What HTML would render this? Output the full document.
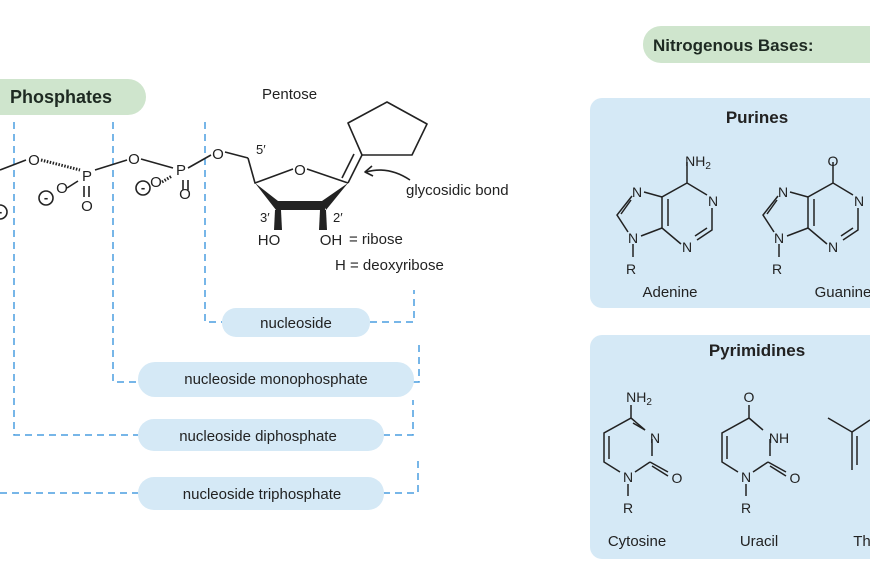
<!DOCTYPE html>
<html><head><meta charset="utf-8"><style>
html,body{margin:0;padding:0;background:#fff;width:870px;height:580px;overflow:hidden}
svg{display:block;font-family:"Liberation Sans",sans-serif}
</style></head><body>
<svg width="870" height="580" viewBox="0 0 870 580" xmlns="http://www.w3.org/2000/svg">
<rect x="643" y="26" width="250" height="37" rx="18" fill="#cfe5cd"/>
<text x="653" y="51" font-size="17" font-weight="bold" fill="#1e2a22">Nitrogenous Bases:</text>
<rect x="-20" y="79" width="166" height="36" rx="18" fill="#cfe5cd"/>
<text x="10" y="103" font-size="18" font-weight="bold" fill="#1e2a22">Phosphates</text>
<text x="262" y="99" font-size="15" fill="#222">Pentose</text>

<rect x="590" y="98" width="300" height="210" rx="12" fill="#d5e9f6"/>
<text x="757" y="123" font-size="17" font-weight="bold" text-anchor="middle" fill="#222">Purines</text>
<rect x="590" y="335" width="300" height="224" rx="12" fill="#d5e9f6"/>
<text x="757" y="356" font-size="17" font-weight="bold" text-anchor="middle" fill="#222">Pyrimidines</text>

<g stroke="#4a9ee0" stroke-width="1.5" stroke-dasharray="7,5" fill="none">
<path d="M14 122 V435 H138"/>
<path d="M113 122 V382 H138"/>
<path d="M205 122 V322 H222"/>
<path d="M370 322 H414 V290"/>
<path d="M413 382 H419 V340"/>
<path d="M383 435 H413 V400"/>
<path d="M0 493 H138"/>
<path d="M383 493 H418 V460"/>
</g>
<g fill="#d5e9f6">
<rect x="222" y="308" width="148" height="29" rx="14"/>
<rect x="138" y="362" width="276" height="35" rx="17"/>
<rect x="138" y="419" width="246" height="32" rx="16"/>
<rect x="138" y="477" width="246" height="33" rx="16"/>
</g>
<g font-size="15" fill="#222" text-anchor="middle">
<text x="296" y="328">nucleoside</text>
<text x="276" y="384">nucleoside monophosphate</text>
<text x="258" y="441">nucleoside diphosphate</text>
<text x="262" y="499">nucleoside triphosphate</text>
</g>

<g stroke="#222" stroke-width="1.6" fill="none">
<line x1="0" y1="170" x2="26" y2="160"/>
<line x1="41" y1="160" x2="80" y2="170" stroke-dasharray="1.5,1.5" stroke-width="3"/>
<line x1="95" y1="170" x2="127" y2="160"/>
<line x1="141" y1="159" x2="173" y2="168"/>
<line x1="188" y1="168" x2="211" y2="155"/>
<line x1="225" y1="152" x2="248" y2="158"/>
<line x1="84" y1="186" x2="84" y2="197"/><line x1="89" y1="186" x2="89" y2="197"/>
<line x1="183" y1="180" x2="183" y2="190"/><line x1="188" y1="180" x2="188" y2="190"/>
<line x1="67" y1="188" x2="78" y2="181"/>
<line x1="162" y1="182" x2="172" y2="176" stroke-dasharray="1.5,1.5" stroke-width="3"/>
<circle cx="0" cy="212" r="7"/><circle cx="46" cy="198" r="7"/><circle cx="143" cy="188" r="7"/>
</g>
<g font-size="15" fill="#222" text-anchor="middle">
<text x="34" y="165">O</text><text x="87" y="181">P</text><text x="62" y="193">O</text><text x="87" y="211">O</text>
<text x="134" y="164">O</text><text x="181" y="175">P</text><text x="156" y="187">O</text><text x="185" y="199">O</text>
<text x="218" y="159">O</text><text x="300" y="175">O</text>
<text x="269" y="245">HO</text><text x="331" y="245">OH</text>
</g>
<g font-size="13" fill="#222" text-anchor="middle" font-weight="bold">
<text x="46" y="202">-</text><text x="143" y="192">-</text><text x="0" y="216">-</text>
</g>
<g stroke="#222" stroke-width="1.6" fill="none" stroke-linejoin="round">
<path d="M248 158 L255 183 L293 169"/>
<path d="M307 169 L348 183"/>
<path d="M348 123 L387 102 L427 124 L412 155 L362 155 Z"/>
<line x1="348" y1="183" x2="362" y2="155"/><line x1="342" y1="178" x2="354" y2="154"/>
<path d="M410 180 C395 170 380 168 366 172"/><path d="M372 166 L365 172 L373 176"/>
</g>
<polygon points="255,183 278,201 276,210" fill="#222"/>
<polygon points="348,183 326,210 322,201" fill="#222"/>
<rect x="276" y="201" width="49" height="9" fill="#222"/>
<polygon points="275,210 281,210 282,230 274,230" fill="#222"/>
<polygon points="320,210 326,210 327,230 319,230" fill="#222"/>
<g fill="#222">
<text x="256" y="154" font-size="13">5′</text>
<text x="260" y="222" font-size="13">3′</text>
<text x="333" y="222" font-size="13">2′</text>
<text x="406" y="195" font-size="15">glycosidic bond</text>
<text x="349" y="244" font-size="15">= ribose</text>
<text x="335" y="270" font-size="15">H = deoxyribose</text>
</g>

<defs>
<g id="pur" stroke="#222" stroke-width="1.5" fill="none">
<path d="M687 162 V183 L707 195 M712 208 V230 L697 240 M681 244 L662 228 V197 L687 183"/>
<path d="M707 228 L695 236"/>
<path d="M668 199 V226"/>
<path d="M662 197 L644 192 M632 196 L617 215 L628 232 M641 236 L662 228"/>
<path d="M621 214 L631 200"/>
<path d="M633 244 V257"/>
</g>
</defs>
<use href="#pur"/>
<use href="#pur" transform="translate(146,0)"/>
<g font-size="14" fill="#222" text-anchor="middle">
<text x="698" y="166">NH<tspan font-size="10" dy="3">2</tspan></text>
<text x="713" y="206">N</text><text x="687" y="252">N</text><text x="637" y="197">N</text><text x="633" y="243">N</text>
<text x="631" y="274">R</text><text x="670" y="297" font-size="15">Adenine</text>
<text x="833" y="166">O</text>
<text x="859" y="206">N</text><text x="833" y="252">N</text><text x="783" y="197">N</text><text x="779" y="243">N</text>
<text x="777" y="274">R</text><text x="843" y="297" font-size="15">Guanine</text>
</g>

<defs>
<g id="pyr" stroke="#222" stroke-width="1.5" fill="none">
<path d="M631 405 V418 L604 433 V462 L620 472 M635 472 L650 462 M652 456 V439 M645 430 L631 418"/>
<path d="M609 436 V459"/>
<path d="M650 462 L668 472"/>
<path d="M628 484 V496"/>
</g>
</defs>
<use href="#pyr"/>
<use href="#pyr" transform="translate(118,0)"/>
<g stroke="#222" stroke-width="1.5" fill="none">
<path d="M633 423 L645 430"/><path d="M652 466 L668 476"/><path d="M770 466 L786 476"/>
<path d="M828 418 L852 432 V470"/><path d="M857 436 V465"/><path d="M852 432 L870 420"/>
</g>
<g font-size="14" fill="#222" text-anchor="middle">
<text x="639" y="402">NH<tspan font-size="10" dy="3">2</tspan></text>
<text x="655" y="443">N</text><text x="677" y="483">O</text><text x="628" y="482">N</text>
<text x="628" y="513">R</text><text x="637" y="546" font-size="15">Cytosine</text>
<text x="749" y="402">O</text>
<text x="779" y="443">NH</text><text x="795" y="483">O</text><text x="746" y="482">N</text>
<text x="746" y="513">R</text><text x="759" y="546" font-size="15">Uracil</text>
<text x="862" y="546" font-size="15">Th</text>
</g>
</svg>
</body></html>
